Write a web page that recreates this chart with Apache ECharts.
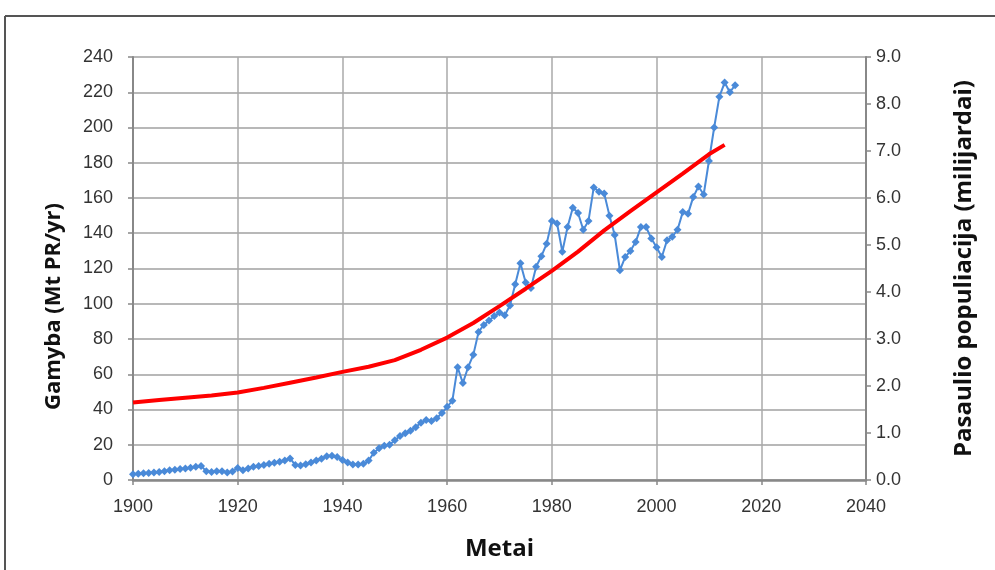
<!DOCTYPE html>
<html>
<head>
<meta charset="utf-8">
<script src="https://cdn.jsdelivr.net/npm/echarts@6/dist/echarts.min.js"></script>
<style>
html,body{margin:0;padding:0;background:#fff;}
#c{width:995px;height:570px;}
</style>
</head>
<body>
<div id="c"></div>
<script>
// Production of phosphate rock (Mt PR/yr), yearly 1900-2015
const prodStartYear = 1900;
const prodValues = [
  3.2, 3.5, 3.8, 4.0, 4.3, 4.6, 5.0, 5.5, 5.8, 6.2,      // 1900-1909
  6.5, 7.0, 7.5, 8.0, 5.0, 4.5, 5.0, 5.0, 4.2, 4.8,      // 1910-1919
  6.8, 5.5, 6.5, 7.5, 8.0, 8.5, 9.2, 9.8, 10.3, 11.0,    // 1920-1929
  12.2, 8.5, 8.2, 9.0, 10.0, 11.0, 12.0, 13.5, 13.8, 13.0, // 1930-1939
  11.3, 10.0, 8.8, 8.8, 9.2, 11.0, 15.5, 18.0, 19.5, 20.0, // 1940-1949
  22.5, 25.0, 26.5, 28.0, 30.0, 32.5, 34.0, 33.5, 35.0, 38.0, // 1950-1959
  41.5, 45.0, 64.0, 55.0, 64.0, 71.0, 84.0, 88.0, 90.5, 93.0, // 1960-1969
  95.0, 93.5, 99.0, 111.0, 123.0, 112.0, 109.0, 121.0, 127.0, 134.0, // 1970-1979
  147.0, 145.5, 129.5, 143.5, 154.5, 151.5, 142.0, 147.0, 166.0, 163.5, // 1980-1989
  162.5, 150.0, 139.0, 119.0, 126.5, 130.0, 135.0, 143.5, 143.5, 137.0, // 1990-1999
  132.0, 126.5, 136.0, 138.0, 142.0, 152.0, 151.0, 160.5, 166.5, 162.0, // 2000-2009
  181.0, 200.0, 217.5, 225.5, 220.0, 224.0                // 2010-2015
];

// World population (billions)
const popYears = [1900,1905,1910,1915,1920,1925,1930,1935,1940,1945,1950,1955,1960,1965,1970,1975,1980,1985,1990,1995,2000,2005,2010,2013];
const popValues = [1.65,1.70,1.75,1.80,1.86,1.96,2.07,2.18,2.30,2.41,2.55,2.77,3.03,3.34,3.70,4.07,4.45,4.86,5.31,5.72,6.12,6.52,6.93,7.13];

// Axis ticks
const xTicks = [1900,1920,1940,1960,1980,2000,2020,2040];
const leftTicks = [0,20,40,60,80,100,120,140,160,180,200,220,240];
const rightTicks = [0,1,2,3,4,5,6,7,8,9];

const prodData = prodValues.map((v,i)=>[prodStartYear+i, v]);
const popData = popYears.map((y,i)=>[y, popValues[i]]);

const chart = echarts.init(document.getElementById('c'));
const labelFont = {fontFamily:'Liberation Sans, Arial, sans-serif', fontSize:18, color:'#333'};
const nameFont = {fontFamily:'Open Sans, Noto Sans, sans-serif', fontWeight:'bold', color:'#111'};

chart.setOption({
  animation:false,
  backgroundColor:'#fff',
  grid:{left:133, right:129, top:57, bottom:90, containLabel:false, outerBoundsMode:'none'},
  graphic:[
    {type:'line', shape:{x1:5,y1:16,x2:995,y2:16}, style:{stroke:'#555',lineWidth:2}},
    {type:'line', shape:{x1:5,y1:16,x2:5,y2:570}, style:{stroke:'#555',lineWidth:2}}
  ],
  xAxis:{
    type:'value', min:xTicks[0], max:xTicks[xTicks.length-1], interval:20,
    name:'Metai', nameLocation:'middle', nameGap:57,
    nameTextStyle:Object.assign({}, nameFont, {fontSize:24}),
    axisLine:{show:true, lineStyle:{color:'#888', width:2.5}},
    axisTick:{show:true, length:5, lineStyle:{color:'#888', width:1.5}},
    axisLabel:Object.assign({margin:18, formatter:v=>String(v)}, labelFont),
    splitLine:{show:true, lineStyle:{color:'#aaa', width:1.5}}
  },
  yAxis:[
    {
      type:'value', min:leftTicks[0], max:leftTicks[leftTicks.length-1], interval:20,
      name:'Gamyba (Mt PR/yr)', nameLocation:'middle', nameGap:68, nameRotate:90,
      nameTextStyle:Object.assign({}, nameFont, {fontSize:22, padding:[0,76,0,0]}),
      axisLine:{show:true, lineStyle:{color:'#888', width:2}},
      axisTick:{show:true, length:5, lineStyle:{color:'#888', width:1.5}},
      axisLabel:Object.assign({margin:20}, labelFont),
      splitLine:{show:true, lineStyle:{color:'#a0a0a0', width:1.5}}
    },
    {
      type:'value', min:rightTicks[0], max:rightTicks[rightTicks.length-1], interval:1,
      name:'Pasaulio populiacija (milijardai)', nameLocation:'middle', nameGap:86, nameRotate:90,
      nameTextStyle:Object.assign({}, nameFont, {fontSize:24}),
      position:'right',
      axisLine:{show:true, lineStyle:{color:'#888', width:2}},
      axisTick:{show:true, length:5, lineStyle:{color:'#888', width:1.5}},
      axisLabel:Object.assign({margin:10, formatter:v=>v.toFixed(1)}, labelFont),
      splitLine:{show:false}
    }
  ],
  series:[
    {
      type:'line', yAxisIndex:0, data:prodData,
      symbol:'diamond', symbolSize:8, showSymbol:true,
      lineStyle:{color:'#4a8ad8', width:2},
      itemStyle:{color:'#4a8ad8'},
      z:3
    },
    {
      type:'line', yAxisIndex:1, data:popData,
      symbol:'none', smooth:false,
      lineStyle:{color:'#ff0000', width:4},
      z:4
    }
  ]
});
</script>
</body>
</html>
